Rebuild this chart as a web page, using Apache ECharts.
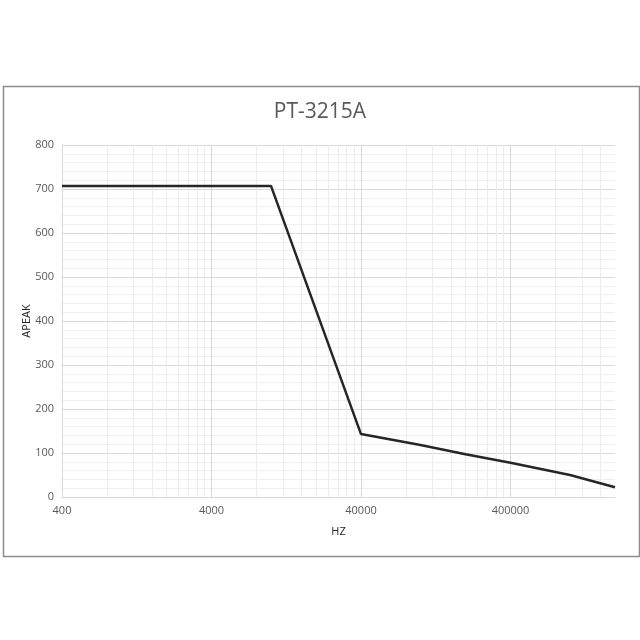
<!DOCTYPE html>
<html>
<head>
<meta charset="utf-8">
<script src="https://cdn.jsdelivr.net/npm/echarts@6/dist/echarts.min.js"></script>
<style>html,body{margin:0;padding:0;background:#fff}#c{width:640px;height:640px}</style>
</head>
<body>
<div id="c"></div>
<script>
const title = 'PT-3215A';
const freqHz = [400, 1000, 2000, 5000, 10000, 40000, 100000, 200000, 400000, 1000000, 2000000];
const apeak  = [707, 707, 707, 707, 707, 143, 118, 97, 78, 50, 22];
const xTickLabels = [400, 4000, 40000, 400000];
const xMin = 400, xMax = 2000000;
const yMin = 0, yMax = 800, yStep = 100;

const minorX = [];
xTickLabels.forEach(function (d) {
  for (let k = 2; k <= 9; k++) { const v = d * k; if (v < xMax) minorX.push(v); }
});

const chart = echarts.init(document.getElementById('c'), null, {renderer: 'canvas'});
chart.setOption({
  backgroundColor: '#fff',
  animation: false,
  title: {
    text: title, left: 'center', top: 97,
    textStyle: {fontFamily: 'Open Sans', fontSize: 21, fontWeight: 'normal', color: '#595959'}
  },
  graphic: [{
    type: 'rect', left: 1, top: 84, shape: {width: 636, height: 470},
    style: {fill: 'none', stroke: '#8c8c8c', lineWidth: 1.5}, silent: true, z: -10
  }],
  grid: {left: 62, right: 25, top: 145, bottom: 143},
  xAxis: {
    type: 'log', logBase: 10, min: xMin, max: xMax,
    name: 'HZ', nameLocation: 'middle', nameGap: 29,
    nameTextStyle: {fontFamily: 'Open Sans', fontSize: 11, color: '#262626'},
    axisLine: {show: true, lineStyle: {color: '#d9d9d9', width: 1}},
    axisTick: {show: false, customValues: xTickLabels},
    axisLabel: {customValues: xTickLabels, fontFamily: 'Open Sans', fontSize: 11, color: '#595959', margin: 8,
      formatter: function (v) { return String(Math.round(v)); }},
    splitLine: {show: true, lineStyle: {color: '#d9d9d9', width: 1}},
    minorTick: {show: false}, minorSplitLine: {show: false}
  },
  yAxis: {
    type: 'value', min: yMin, max: yMax, interval: yStep,
    name: 'APEAK', nameLocation: 'middle', nameGap: 30, nameMoveOverlap: false,
    nameTextStyle: {fontFamily: 'Open Sans', fontSize: 11, color: '#262626'},
    axisLine: {show: true, lineStyle: {color: '#d9d9d9', width: 1}},
    axisTick: {show: false},
    axisLabel: {fontFamily: 'Open Sans', fontSize: 11, color: '#595959', margin: 8},
    splitLine: {show: true, lineStyle: {color: '#d9d9d9', width: 1}},
    minorTick: {show: false, splitNumber: 5},
    minorSplitLine: {show: true, lineStyle: {color: '#efefef', width: 1}}
  },
  series: [
    {
      type: 'line', data: [], z: 1, silent: true,
      markLine: {
        silent: true, symbol: ['none', 'none'], animation: false,
        label: {show: false},
        lineStyle: {color: '#ececec', width: 1, type: 'solid'},
        data: minorX.map(function (v) { return {xAxis: v}; })
      }
    },
    {
      type: 'line', z: 5,
      data: freqHz.map(function (f, i) { return [f, apeak[i]]; }),
      showSymbol: false,
      lineStyle: {color: '#262626', width: 2.5},
      itemStyle: {color: '#262626'}
    }
  ]
});
</script>
</body>
</html>
